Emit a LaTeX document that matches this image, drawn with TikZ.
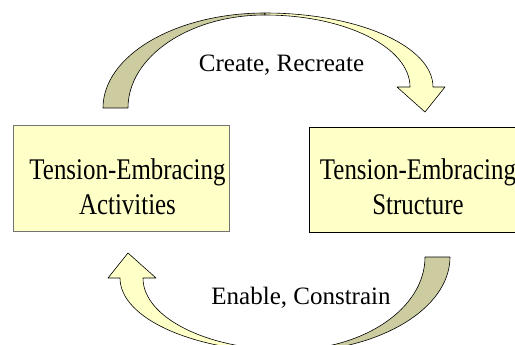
\documentclass[tikz,border=0pt]{standalone}
\usepackage{fontspec}
\setmainfont{Liberation Serif}
\newfontfamily\boxfont[FakeStretch=0.83]{Liberation Serif}
\usetikzlibrary{positioning}

\definecolor{paleyellow}{RGB}{255,255,200}
\definecolor{olivegrey}{RGB}{204,204,160}

\begin{document}
\begin{tikzpicture}[
  x=1pt, y=-1pt,
  every node/.style={font=\fontsize{25}{30}\selectfont},
  tebox/.style={draw, fill=paleyellow, line width=0.7pt, minimum width=216pt, minimum height=106pt, inner sep=0pt},
  boxtext/.style={font=\boxfont\fontsize{30}{34.5}\selectfont, align=center, inner sep=0pt},
  frontside/.style={draw, fill=paleyellow, line width=0.6pt, line join=round},
  backside/.style={draw, fill=olivegrey, line width=0.6pt, line join=round},
  twistarrow/.pic={
    \draw[backside] (103,108) arc[start angle=180, end angle=270, x radius=162, y radius=95]
      -- (265,15) arc[start angle=270, end angle=180, x radius=137, y radius=93] -- cycle;
    \draw[frontside] (265,13) arc[start angle=270, end angle=360, x radius=168, y radius=74]
      -- (445,87) -- (425,112) -- (397,87) -- (410,87)
      arc[start angle=0, end angle=-90, x radius=145, y radius=72] -- cycle;
  }
]
  \useasboundingbox (0,0) rectangle (515,345);
  \clip (0,0) rectangle (515,345);

  \pic {twistarrow};
  \pic[rotate around={180:(276.5,182.5)}] {twistarrow};

  \node[tebox, draw=black!55] (actbox) at (121,178) {};
  \node[tebox, minimum height=105pt, right=80pt of actbox, yshift=-1.5pt] (strbox) {};

  \node[boxtext] (acttext) at (127.5,189.9) {\strut Tension-Embracing\\Activities\strut};
  \node[boxtext] (strtext) at (418,189.9) {\strut Tension-Embracing\\Structure\strut};

  \node[anchor=base] (createlbl) at (281.5,72) {Create, Recreate};
  \node[anchor=base] (enablelbl) at (301,304.5) {Enable, Constrain};
\end{tikzpicture}
\end{document}
